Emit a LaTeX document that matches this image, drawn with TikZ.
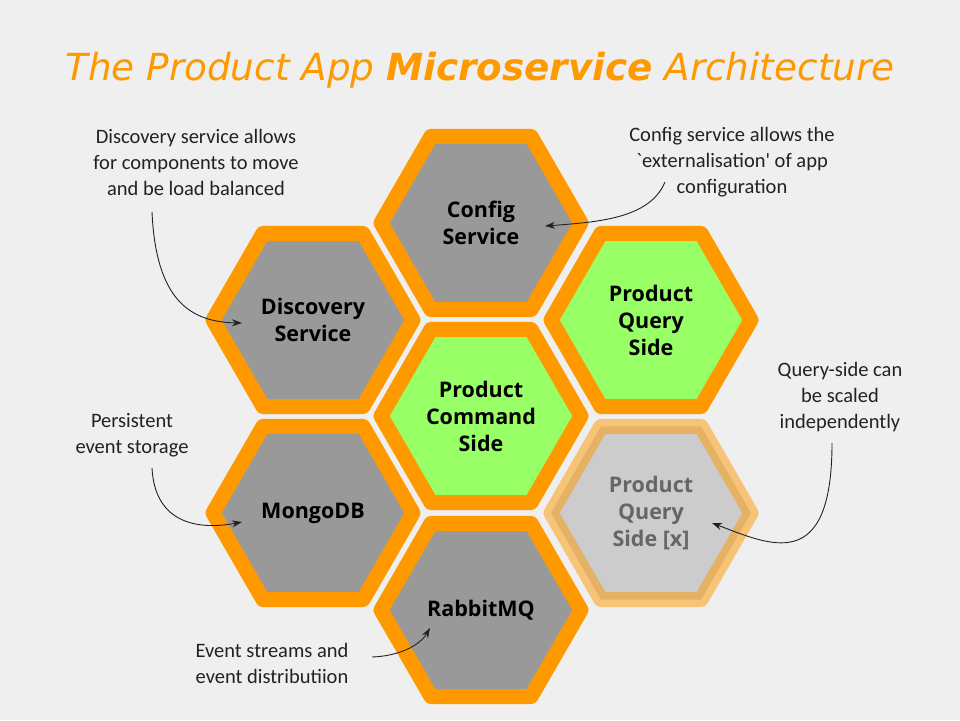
\documentclass[tikz,border=0pt]{standalone}
\usepackage{fontspec}
\setmainfont{DejaVu Sans}
\newfontfamily\hexfont{Open Sans}
\newfontfamily\handfont{Carlito}
\usetikzlibrary{shapes.geometric,arrows.meta}
\definecolor{bg}{HTML}{EFEFEF}
\definecolor{hexorange}{HTML}{FF9900}
\definecolor{hexgray}{HTML}{999999}
\definecolor{hexgreen}{HTML}{99FF66}
\definecolor{hexpale}{HTML}{CCCCCC}
\definecolor{paletext}{HTML}{666666}
\definecolor{ink}{HTML}{222222}
\begin{document}
\begin{tikzpicture}[x=1pt,y=-1pt,
  hexbox/.style={regular polygon, regular polygon sides=6,
    minimum size=200pt, inner sep=0pt, line width=15pt, draw=hexorange, line join=round,
    font=\hexfont\bfseries\fontsize{21.5}{27}\selectfont, align=center, text=black},
  grayhex/.style={hexbox, fill=hexgray},
  greenhex/.style={hexbox, fill=hexgreen},
  palehex/.style={hexbox, fill=hexpale, draw opacity=0.5, text=paletext},
  note/.style={font=\handfont\fontsize{20.5}{26}\selectfont, align=center, text=ink},
  pointer/.style={draw=ink, line width=0.9pt, -{Stealth[length=10pt,width=7pt]}}
]
\path[fill=bg] (0,0) rectangle (960,720);
\node[font=\fontsize{37.3}{45}\selectfont\itshape, text=hexorange] (title) at (480,70)
  {The Product App \textbf{Microservice} Architecture};

\node[grayhex]  (config)    at (481,223) {Config\\Service};
\node[grayhex]  (discovery) at (313,320) {Discovery\\Service};
\node[greenhex] (query)     at (651,320) {Product\\Query\\Side};
\node[greenhex] (command)   at (481,416) {Product\\Command\\Side};
\node[grayhex]  (mongo)     at (313,513) {MongoDB};
\node[palehex]  (queryx)    at (651,513) {Product\\Query\\Side [x]};
\node[grayhex]  (rabbit)    at (481,610) {RabbitMQ};

\node[note] (ndisc)  at (196,162) {Discovery service allows\\for components to move\\and be load balanced};
\node[note] (nconf)  at (732,162) {Config service allows the\\`externalisation' of app\\configuration};
\node[note] (nquery) at (840,397) {Query-side can\\be scaled\\independently};
\node[note] (nmongo) at (132,435) {Persistent\\event storage};
\node[note] (nrabbit) at (272,663) {Event streams and\\event distributiion};

\coordinate (sdisc) at (152,212);  \coordinate (edisc) at (242,323);
\coordinate (sconf) at (665,182);  \coordinate (econf) at (545,226);
\coordinate (squery) at (832,443); \coordinate (equery) at (712,523);
\coordinate (smongo) at (152,468); \coordinate (emongo) at (242,522);
\coordinate (srabbit) at (372,657); \coordinate (erabbit) at (430,628);

\draw[pointer] (sdisc) .. controls (156,300) and (190,322) .. (edisc);
\draw[pointer] (sconf) .. controls (650,218) and (600,222) .. (econf);
\draw[pointer] (squery) .. controls (832,575) and (770,545) .. (equery);
\draw[pointer] (smongo) .. controls (155,525) and (200,530) .. (emongo);
\draw[pointer] (srabbit) .. controls (400,656) and (420,645) .. (erabbit);
\end{tikzpicture}
\end{document}
